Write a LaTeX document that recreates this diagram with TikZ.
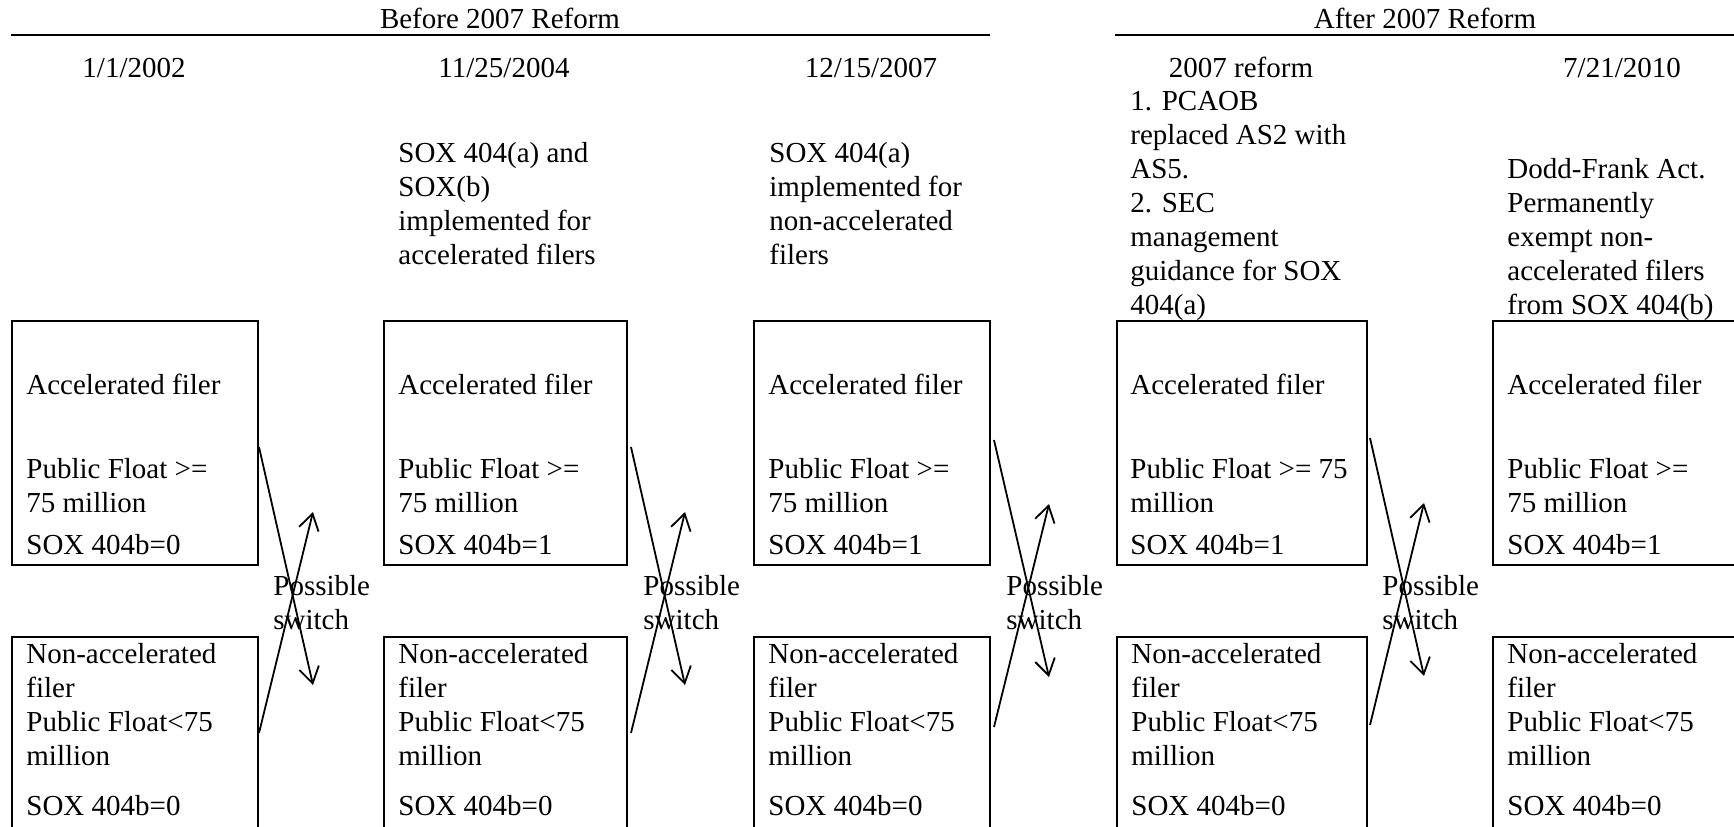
\documentclass[tikz,border=0pt]{standalone}
\usepackage{fontspec}
\setmainfont{Liberation Serif}
\usetikzlibrary{arrows.meta,calc}

\tikzset{
  filer/.style={rectangle, draw=black, line width=1pt, anchor=north west, inner sep=0pt, minimum height=122pt},
  txt/.style={inner sep=0pt, align=left, anchor=north west, font=\fontsize{14.5}{17}\selectfont, execute at begin node=\strut},
  hdr/.style={inner sep=0pt, anchor=base, font=\fontsize{14.5}{17}\selectfont},
  switcharrow/.style={line width=0.9pt, -{Straight Barb[length=8pt,width=10pt]}}
}

\begin{document}
\begin{tikzpicture}[x=0.5pt, y=-0.5pt]
    \useasboundingbox (0,0) rectangle (1734,826);
    \clip (0,0) rectangle (1734,826);

    % period headers
    \node[hdr] (before) at (500,28) {Before 2007 Reform};
    \node[hdr] (after) at (1425,28) {After 2007 Reform};
    \draw[line width=1pt] (11,35) -- (990,35);
    \draw[line width=1pt] (1115,35) -- (1734,35);

    % dates
    \node[hdr] (dateA) at (134,77) {1/1/2002};
    \node[hdr] (dateB) at (504,77) {11/25/2004};
    \node[hdr] (dateC) at (871,77) {12/15/2007};
    \node[hdr] (dateD) at (1241,77) {2007 reform};
    \node[hdr] (dateE) at (1622,77) {7/21/2010};

    % events
    \node[txt] (eventB) at (398,142) {SOX 404(a) and\\SOX(b)\\implemented for\\accelerated filers};
    \node[txt] (eventC) at (769,142) {SOX 404(a)\\implemented for\\non-accelerated\\filers};
    \node[txt] (eventD) at (1130,91) {1. PCAOB\\replaced AS2 with\\AS5.\\2. SEC\\management\\guidance for SOX\\404(a)};
    \node[txt] (eventE) at (1507,158) {Dodd-Frank Act.\\Permanently\\exempt non-\\accelerated filers\\from SOX 404(b)};

    % filer boxes
    \node[filer, minimum width=123pt] (accA) at (11,320) {};
    \node[filer, minimum width=121.5pt] (accB) at (383,320) {};
    \node[filer, minimum width=118pt] (accC) at (753,320) {};
    \node[filer, minimum width=125pt] (accD) at (1116,320) {};
    \node[filer, minimum width=130pt] (accE) at (1492,320) {};
    \node[filer, minimum width=123pt, minimum height=110pt] (nonA) at (11,636) {};
    \node[filer, minimum width=121.5pt, minimum height=110pt] (nonB) at (383,636) {};
    \node[filer, minimum width=118pt, minimum height=110pt] (nonC) at (753,636) {};
    \node[filer, minimum width=125pt, minimum height=110pt] (nonD) at (1116,636) {};
    \node[filer, minimum width=130pt, minimum height=110pt] (nonE) at (1492,636) {};

    \node[txt] (accAtxt) at ($(accA.north west)+(15,53.5)$) {Accelerated filer\\[25pt]Public Float >=\\75 million\\[4pt]SOX 404b=0};
    \node[txt] (accBtxt) at ($(accB.north west)+(15,53.5)$) {Accelerated filer\\[25pt]Public Float >=\\75 million\\[4pt]SOX 404b=1};
    \node[txt] (accCtxt) at ($(accC.north west)+(15,53.5)$) {Accelerated filer\\[25pt]Public Float >=\\75 million\\[4pt]SOX 404b=1};
    \node[txt] (accDtxt) at ($(accD.north west)+(14,53.5)$) {Accelerated filer\\[25pt]Public Float >= 75\\million\\[4pt]SOX 404b=1};
    \node[txt] (accEtxt) at ($(accE.north west)+(15,53.5)$) {Accelerated filer\\[25pt]Public Float >=\\75 million\\[4pt]SOX 404b=1};
    \foreach \c in {A,B,C,D,E}
        \node[txt] (non\c txt) at ($(non\c.north west)+(15,6.5)$) {Non-accelerated\\filer\\Public Float<75\\million\\[8pt]SOX 404b=0};

    % possible switches
    \coordinate (downA) at (313,685);
    \coordinate (upA) at (313,512);
    \coordinate (downB) at (685,685);
    \coordinate (upB) at (685,512);
    \coordinate (downC) at (1049,677);
    \coordinate (upC) at (1049,504);
    \coordinate (downD) at (1424,676);
    \coordinate (upD) at (1424,503);

    \draw[switcharrow] ($(accA.north east)+(0,127)$) -- (downA);
    \draw[switcharrow] ($(nonA.north east)+(0,97)$) -- (upA);
    \draw[switcharrow] ($(accB.north east)+(3,127)$) -- (downB);
    \draw[switcharrow] ($(nonB.north east)+(3,97)$) -- (upB);
    \draw[switcharrow] ($(accC.north east)+(3,120)$) -- (downC);
    \draw[switcharrow] ($(nonC.north east)+(3,91)$) -- (upC);
    \draw[switcharrow] ($(accD.north east)+(2,118)$) -- (downD);
    \draw[switcharrow] ($(nonD.north east)+(2,89)$) -- (upD);

    \node[txt] (switchA) at ($(accA.south east)+(14,9)$) {Possible\\switch};
    \node[txt] (switchB) at ($(accB.south east)+(15,9)$) {Possible\\switch};
    \node[txt] (switchC) at ($(accC.south east)+(15,9)$) {Possible\\switch};
    \node[txt] (switchD) at ($(accD.south east)+(14,9)$) {Possible\\switch};
\end{tikzpicture}
\end{document}
